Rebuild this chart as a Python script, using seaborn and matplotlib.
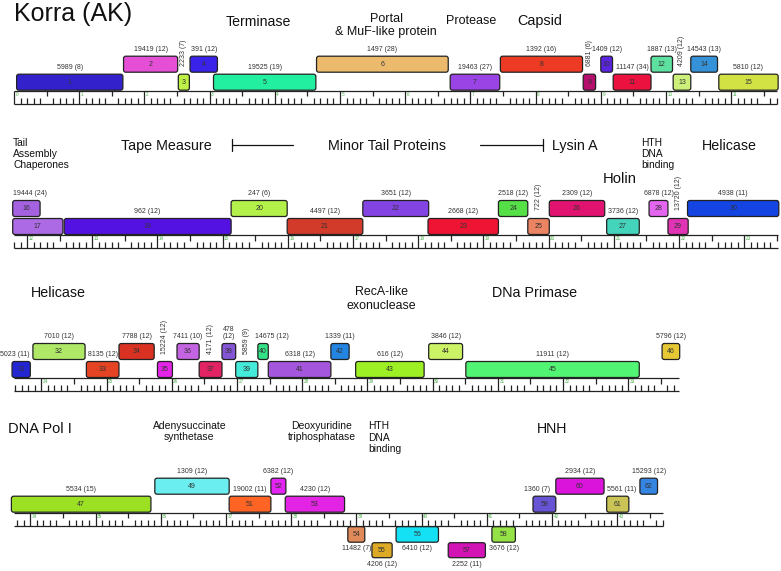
import numpy as np
import pandas as pd
import matplotlib
matplotlib.use("Agg")
import matplotlib.pyplot as plt
from matplotlib.patches import FancyBboxPatch
import seaborn as sns

# gene map of Korra (AK), positions in kb
gene_num = [1, 2, 3, 4, 5, 6, 7, 8, 9, 10, 11, 12, 13, 14, 15,
            16, 17, 19, 20, 21, 22, 23, 24, 25, 26, 27, 28, 29, 30,
            31, 32, 33, 34, 35, 36, 37, 38, 39, 40, 41, 42, 43, 44, 45, 46,
            47, 49, 51, 52, 53, 54, 55, 56, 57, 58, 59, 60, 61, 62]
gene_start = [0.04, 1.68, 2.52, 2.70, 3.06, 4.64, 6.69, 7.46, 8.73, 9.00, 9.19, 9.77, 10.11, 10.38, 10.81,
              11.78, 11.78, 12.57, 15.13, 15.99, 17.15, 18.15, 19.23, 19.68, 20.01, 20.89, 21.54, 21.83, 22.13,
              23.55, 23.87, 24.69, 25.19, 25.78, 26.08, 26.42, 26.77, 26.98, 27.32, 27.48, 28.44, 28.82, 29.94, 30.51, 33.52,
              33.71, 35.91, 37.05, 37.69, 37.91, 38.87, 39.24, 39.61, 40.41, 41.08, 41.71, 42.06, 42.84, 43.35]
gene_end = [1.67, 2.51, 2.69, 3.12, 4.63, 6.66, 7.45, 8.72, 8.92, 9.18, 9.77, 10.10, 10.38, 10.79, 11.72,
            12.20, 12.55, 15.13, 15.99, 17.15, 18.16, 19.23, 19.68, 20.01, 20.86, 21.39, 21.83, 22.14, 23.53,
            23.83, 24.67, 25.19, 25.73, 26.01, 26.42, 26.77, 26.98, 27.32, 27.48, 28.44, 28.72, 29.87, 30.46, 33.17, 33.79,
            35.85, 37.05, 37.69, 37.92, 38.82, 39.13, 39.55, 40.26, 40.98, 41.44, 42.06, 42.80, 43.18, 43.62]
gene_lane = [1, 2, 1, 2, 1, 2, 1, 2, 1, 2, 1, 2, 1, 2, 1,
             2, 1, 1, 2, 1, 2, 1, 2, 1, 2, 1, 2, 1, 2,
             1, 2, 1, 2, 1, 2, 1, 2, 1, 2, 1, 2, 1, 2, 1, 2,
             1, 2, 1, 2, 1, -1, -2, -1, -2, -1, 1, 2, 1, 2]
gene_label = ["5989 (8)", "19419 (12)", "2233 (7)", "391 (12)", "19525 (19)", "1497 (28)", "19463 (27)",
              "1392 (16)", "6881 (6)", "1409 (12)", "11147 (34)", "1887 (13)", "4209 (12)", "14543 (13)", "5810 (12)",
              "19444 (24)", "", "962 (12)", "247 (6)", "4497 (12)", "3651 (12)", "2668 (12)", "2518 (12)",
              "722 (12)", "2309 (12)", "3736 (12)", "6878 (12)", "13720 (12)", "4938 (11)",
              "5023 (11)", "7010 (12)", "8135 (12)", "7788 (12)", "15224 (12)", "7411 (10)", "4171 (12)",
              "478\n(12)", "5859 (9)", "14675 (12)", "6318 (12)", "1339 (11)", "616 (12)", "3846 (12)",
              "11911 (12)", "5796 (12)",
              "5534 (15)", "1309 (12)", "19002 (11)", "6382 (12)", "4230 (12)", "11482 (7)", "4206 (12)",
              "6410 (12)", "2252 (11)", "3676 (12)", "1360 (7)", "2934 (12)", "5561 (11)", "15293 (12)"]
gene_color = ["#3322cc", "#e44fd6", "#bff046", "#3a22e8", "#22f0a0", "#ecba6c", "#9a44e6", "#ec3a24",
              "#b5106e", "#5a24e0", "#ec1240", "#5ee0a0", "#cdf07a", "#3592d8", "#d2e244",
              "#a462e0", "#ac6ae4", "#5412e2", "#b4f04a", "#d23a2a", "#8444e4", "#f01434", "#56e048",
              "#ea8462", "#e01470", "#44d4bc", "#e466f0", "#e034b4", "#1444e2",
              "#2426d4", "#aee866", "#e44424", "#da3222", "#e424e8", "#c464e2", "#e22464", "#8456d6",
              "#44eada", "#34e286", "#a456dc", "#2484e2", "#9cf024", "#ccf266", "#52f474", "#e6c834",
              "#9ce024", "#6aeef0", "#ff6424", "#e424f2", "#e424e4", "#e08a5a", "#dcaa24", "#14e2f4",
              "#d214b4", "#94e246", "#6654d4", "#da14da", "#cac456", "#3484e2"]
vertical_labels = [3, 9, 13, 25, 29, 35, 37, 39]
# small sideways nudges of some gene labels (pixels)
label_shift = {16: 4, 31: -6, 40: 9, 59: -7, 61: 4}

# ruler extent of each printed line
row_start = [0.0, 11.80, 23.58, 33.75]
row_end = [11.70, 23.52, 33.78, 43.70]

# functional annotations
annot_text = ["Terminase", "Portal", "& MuF-like protein", "Protease", "Capsid",
              "Tail", "Assembly", "Chaperones", "Tape Measure", "Minor Tail Proteins", "Lysin A",
              "HTH", "DNA", "binding", "Holin", "Helicase",
              "Helicase", "RecA-like", "exonuclease", "DNa Primase",
              "DNA Pol I", "Adenysuccinate", "synthetase", "Deoxyuridine", "triphosphatase",
              "HTH", "DNA", "binding", "HNH"]
annot_row = [0, 0, 0, 0, 0,
             1, 1, 1, 1, 1, 1, 1, 1, 1, 1, 1,
             2, 2, 2, 2,
             3, 3, 3, 3, 3, 3, 3, 3, 3]
annot_kb = [3.74, 5.71, 5.71, 7.01, 8.07,
            11.785, 11.785, 11.785, 14.13, 17.52, 20.40, 21.416, 21.416, 21.416, 21.09, 22.77,
            24.255, 29.21, 29.21, 31.57,
            34.15, 36.44, 36.44, 38.47, 38.47, 39.18, 39.18, 39.18, 42.0]
annot_y = [65.2, 68.7, 55.2, 66.2, 65.2,
           89.3, 78.3, 67.0, 85, 85, 85, 89.3, 78.3, 67.0, 51.7, 85,
           81, 83, 68.7, 80.7,
           80, 83.4, 72.7, 83.4, 72.7, 83.4, 72.0, 60.7, 79.4]
annot_size = [10.2, 9, 9, 9, 10.4,
              7.4, 7.4, 7.4, 10.3, 10.3, 10.3, 7.4, 7.4, 7.4, 10.6, 10.3,
              10.3, 8.9, 8.9, 10.3,
              10.5, 7.5, 7.5, 7.5, 7.5, 7.4, 7.4, 7.4, 10.2]
annot_left = ["Tail", "Assembly", "Chaperones", "HTH", "DNA", "binding"]

# bracket lines of the tail region (row 2)
bracket_from = [15.14, 19.91]
bracket_to = [16.08, 18.95]

genes = pd.DataFrame({"num": gene_num, "start": gene_start, "end": gene_end,
                      "lane": gene_lane, "label": gene_label, "color": gene_color})
genes["mid"] = (genes["start"] + genes["end"]) / 2
genes["row"] = np.searchsorted(row_start, genes["mid"], side="right") - 1

sns.set_theme(style="white")
plt.rcParams["font.family"] = ["Liberation Sans", "DejaVu Sans"]

PX_PER_KB = 65.2
W, H = 781, 571
ruler_top = [90.7, 235, 378, 512.7]   # pixel row of the ruler in each line
LANE_Y = {1: (0.5, 16.5), 2: (18.5, 34.5), -1: (-29.5, -14), -2: (-45, -30)}
RULER_H = 13.3

fig = plt.figure(figsize=(W / 100, H / 100), dpi=100)
fig.text(14 / W, 1 - 2 / H, "Korra (AK)", fontsize=18, va="top", ha="left", color="#111")

for r in range(4):
    T = ruler_top[r]
    ax = fig.add_axes([0, (H - (T + 70)) / H, 1, 170 / H])
    left = row_start[r] - 14 / PX_PER_KB
    ax.set_xlim(left, left + W / PX_PER_KB)
    ax.set_ylim(-70, 100)
    ax.axis("off")

    # ruler
    s, e = row_start[r], row_end[r]
    ax.hlines([0, -RULER_H], s, e, color="#222", lw=0.9)
    for t in np.arange(np.ceil(s * 10 - 1e-6), np.floor(e * 10 + 1e-6) + 1) / 10:
        k = round(t * 10)
        if k % 10 == 0:
            ax.vlines(t, -RULER_H, 0, color="#222", lw=0.9)
            ax.text(t + 1.5 / PX_PER_KB, -1.2, str(k // 10), fontsize=3.3, color="#4cae4c",
                    va="top", ha="left")
        elif k % 5 == 0:
            ax.vlines(t, -5.5, 0, color="#222", lw=0.9)
        else:
            ax.vlines(t, -RULER_H, -RULER_H + 6, color="#222", lw=0.9)

    # genes
    for _, g in genes[genes["row"] == r].iterrows():
        y0, y1 = LANE_Y[g["lane"]]
        box = FancyBboxPatch((g["start"], y0), g["end"] - g["start"], y1 - y0,
                             boxstyle="round,pad=0,rounding_size=0.035",
                             mutation_aspect=PX_PER_KB, fc=g["color"], ec="#222", lw=0.9,
                             clip_on=False, zorder=3)
        ax.add_patch(box)
        ax.text(g["mid"], (y0 + y1) / 2, str(g["num"]), fontsize=5, color="#333",
                ha="center", va="center", zorder=4)
        if not g["label"]:
            continue
        lx = g["mid"] + label_shift.get(g["num"], 0) / PX_PER_KB
        if g["num"] in vertical_labels:
            ax.text(lx, y1 + 8, g["label"], fontsize=5, color="#333", rotation=90,
                    ha="center", va="bottom")
        elif g["lane"] > 0:
            ax.text(lx, y1 + 3.6, g["label"], fontsize=5, color="#333",
                    ha="center", va="bottom", multialignment="center", linespacing=1.0)
        else:
            ax.text(lx, y0 - 3, g["label"], fontsize=5, color="#333",
                    ha="center", va="top")

    # functional annotations
    for txt, ar, kb, yy, sz in zip(annot_text, annot_row, annot_kb, annot_y, annot_size):
        if ar != r:
            continue
        ha = "left" if txt in annot_left else "center"
        ax.text(kb, yy, txt, fontsize=sz, ha=ha, va="baseline", color="#111")

    if r == 1:
        for a, b in zip(bracket_from, bracket_to):
            ax.plot([a, b], [90, 90], color="#111", lw=0.9)
            ax.plot([a, a], [84.3, 96], color="#111", lw=0.9)

fig.savefig("out.png", dpi=100)
